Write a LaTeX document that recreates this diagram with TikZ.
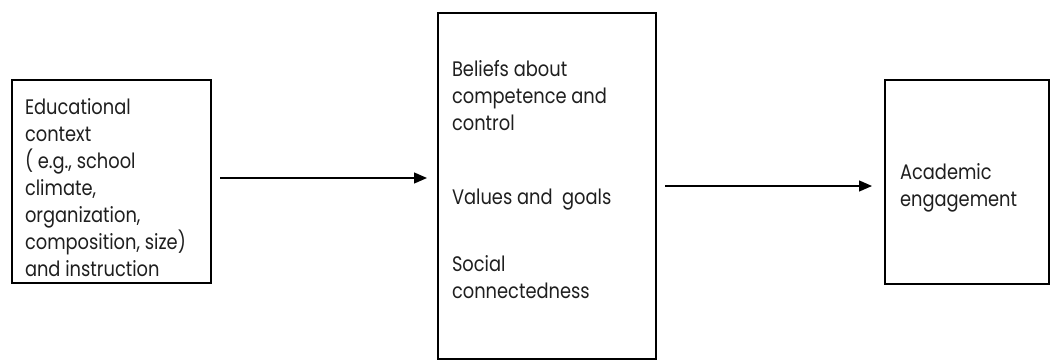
\documentclass[tikz,border=0pt]{standalone}
\usepackage{fontspec}
\setmainfont[FakeStretch=0.85]{Poppins}
\usetikzlibrary{arrows.meta}
\begin{document}
\begin{tikzpicture}[x=1pt,y=1pt,
  boxstyle/.style={draw, line width=1.4pt, inner sep=0pt, outer sep=0pt},
  txt/.style={inner sep=0pt, outer sep=0pt, align=left, font=\fontsize{21}{27}\selectfont, text=black!88},
  arr/.style={line width=1.3pt, -{Triangle[length=13pt,width=11pt]}}]
\useasboundingbox (0,0) rectangle (1050,360);
\node[boxstyle, minimum width=199pt, minimum height=203pt, anchor=north west] (left) at (12,280) {};
\node[boxstyle, minimum width=218pt, minimum height=346pt, anchor=north west] (mid) at (438,347) {};
\node[boxstyle, minimum width=164pt, minimum height=204pt, anchor=north west] (right) at (885,280) {};
\node[txt, anchor=base west] (lefttext) at (25,84) {Educational\\context\\( e.g., school\\climate,\\organization,\\composition, size)\\and instruction};
\node[txt, anchor=base west] (belief) at (452,230) {Beliefs about\\competence and\\control};
\node[txt, anchor=base west] (values) at (452,156) {Values and\ \ goals};
\node[txt, anchor=base west] (social) at (452,62) {Social\\connectedness};
\node[txt, anchor=base west] (acad) at (900,154) {Academic\\engagement};
\coordinate (a1) at (0,182);
\coordinate (a2) at (0,174);
\draw[arr, shorten <=9pt, shorten >=11pt] (left.east |- a1) -- (mid.west |- a1);
\draw[arr, shorten <=9pt, shorten >=13pt] (mid.east |- a2) -- (right.west |- a2);
\end{tikzpicture}
\end{document}
